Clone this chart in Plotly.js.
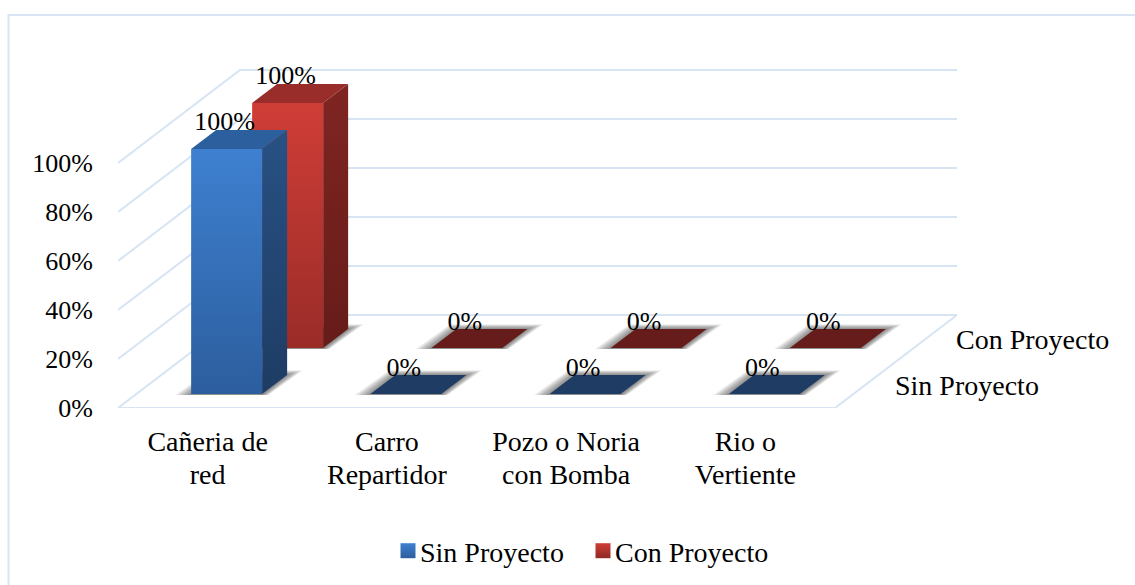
<!DOCTYPE html>
<html>
<head>
<meta charset="utf-8">
<script src="https://cdn.plot.ly/plotly-3.0.1.min.js"></script>
<style>html,body{margin:0;padding:0;background:#fff;overflow:hidden}</style>
</head>
<body>
<div id="chart" style="width:1135px;height:585px"></div>
<script>
const categories = ["Cañeria de<br>red", "Carro<br>Repartidor", "Pozo o Noria<br>con Bomba", "Rio o<br>Vertiente"];
const sinProyecto = [100, 0, 0, 0];
const conProyecto = [100, 0, 0, 0];
const seriesNames = ["Sin Proyecto", "Con Proyecto"];
const yTicks = [0, 20, 40, 60, 80, 100];
const yTickLabels = ["0%", "20%", "40%", "60%", "80%", "100%"];

// scale of the flat axes and the oblique projection, in screen pixels
const W = 1135, H = 585, L = 118, B = 408, T = 30, R = 1000;
const PX_CAT = 179.25, PX_PCT = 2.45;
const DEPTH_X = 122, DEPTH_Y = 93;
const BAR_HALF = 35.5, BAR_DX = 25, BAR_DY = 19;
const FONT = "Liberation Serif";
const GRID = "#D7E4F4";
const X = (c, px) => c + (px || 0) / PX_CAT;
const Y = (v, px) => v + (px || 0) / PX_PCT;
const xStart = -0.5, xEnd = xStart + (R - L) / PX_CAT;
const yEnd = (B - T) / PX_PCT;

const traces = [];
function poly(pts, o) {
  const t = {
    x: pts.map(p => p[0]), y: pts.map(p => p[1]),
    mode: "lines", line: { width: 0 }, fill: "toself",
    hoverinfo: "skip", showlegend: false, cliponaxis: false
  };
  if (Array.isArray(o)) {
    t.fillgradient = { type: "vertical", colorscale: [[0, o[1]], [1, o[0]]] };
  } else t.fillcolor = o;
  traces.push(t);
}
function line(pts) {
  traces.push({
    x: pts.map(p => p[0]), y: pts.map(p => p[1]),
    mode: "lines", line: { color: GRID, width: 2 },
    hoverinfo: "skip", showlegend: false, cliponaxis: false
  });
}

// side wall and back wall gridlines
yTicks.forEach(v => {
  line([[xStart, v], [X(xStart, DEPTH_X), Y(v, DEPTH_Y)], [xStart + (957 - L) / PX_CAT, Y(v, DEPTH_Y)]]);
});
// floor
const xFrontEnd = xStart + 4;
line([[xStart, 0], [xFrontEnd, 0], [X(xFrontEnd, DEPTH_X), Y(0, DEPTH_Y)]]);

function bar(c, v, dx, dy, cols) {
  const xl = X(c, dx - BAR_HALF), xr = X(c, dx + BAR_HALF);
  const xlb = X(c, dx - BAR_HALF + BAR_DX), xrb = X(c, dx + BAR_HALF + BAR_DX);
  const y0 = Y(0, dy), y1 = Y(v, dy), y0b = Y(0, dy + BAR_DY), y1b = Y(v, dy + BAR_DY);
  // soft floor shadow
  for (let k = 16; k >= 1; k--) {
    poly([
      [X(c, dx - BAR_HALF - k), Y(0, dy - 1)],
      [X(c, dx + BAR_HALF + k * 0.4), Y(0, dy - 1)],
      [X(c, dx + BAR_HALF + BAR_DX + k), Y(0, dy + BAR_DY + k * 0.3)],
      [X(c, dx - BAR_HALF + BAR_DX - k * 0.4), Y(0, dy + BAR_DY + k * 0.3)]
    ], "rgba(40,40,40,0.045)");
  }
  if (v > 0) {
    poly([[xr, y0], [xrb, y0b], [xrb, y1b], [xr, y1]], cols.side);
    poly([[xl, y0], [xr, y0], [xr, y1], [xl, y1]], cols.front);
    poly([[xl, y1], [xr, y1], [xrb, y1b], [xlb, y1b]], cols.top);
  } else {
    poly([[xl, y1], [xr, y1], [xrb, y1b], [xlb, y1b]], cols.flat);
  }
}
const conCols = { front: ["#D03D37", "#9A2C28"], side: ["#7F2522", "#661C19"], top: "#992D2A", flat: "#661C1A" };
const sinCols = { front: ["#3E80D0", "#2C5E9E"], side: ["#285184", "#1E3C64"], top: "#2C5F9E", flat: "#1E3C64" };
conProyecto.forEach((v, c) => bar(c, v, 80, 60, conCols));
sinProyecto.forEach((v, c) => bar(c, v, 19, 14, sinCols));

// data labels
function labels(vals, dx, dy) {
  traces.push({
    x: vals.map((v, c) => X(c, dx)), y: vals.map(v => Y(v, dy + (v > 0 ? 26 : 25))),
    mode: "text", text: vals.map(v => v + "%"), textposition: "middle center",
    textfont: { family: FONT, size: 26, color: "#000" },
    hoverinfo: "skip", showlegend: false, cliponaxis: false
  });
}
labels(conProyecto, 80 - 2, 60);
labels(sinProyecto, 19 - 2, 14);

// legend entries
traces.push({ x: [null], y: [null], mode: "markers", name: seriesNames[0],
  marker: { symbol: "square", size: 15, color: "#3E80D0", gradient: { type: "vertical", color: "#2C5E9E" } } });
traces.push({ x: [null], y: [null], mode: "markers", name: seriesNames[1],
  marker: { symbol: "square", size: 15, color: "#D03D37", gradient: { type: "vertical", color: "#8F2925" } } });

const layout = {
  width: W, height: H, paper_bgcolor: "#fff", plot_bgcolor: "rgba(0,0,0,0)",
  margin: { l: 0, r: 0, t: 0, b: 0, pad: 0 },
  font: { family: FONT, size: 28, color: "#000" },
  xaxis: { domain: [L / W, R / W], range: [xStart, xEnd], tickmode: "array", tickvals: categories.map((_, i) => i), ticktext: categories,
    showgrid: false, zeroline: false, showline: false, ticks: "outside", ticklen: 8, tickcolor: "rgba(0,0,0,0)",
    tickfont: { family: FONT, size: 28, color: "#000" }, tickangle: 0, fixedrange: true },
  yaxis: { domain: [(H - B) / H, (H - T) / H], range: [0, yEnd], tickmode: "array", tickvals: yTicks, ticktext: yTickLabels,
    showgrid: false, zeroline: false, showline: false, ticks: "outside", ticklen: 19, tickcolor: "rgba(0,0,0,0)",
    tickfont: { family: FONT, size: 26, color: "#000" }, fixedrange: true },
  showlegend: true,
  legend: { orientation: "h", x: 380 / W, xanchor: "left", y: (H - 551) / H, yanchor: "middle", entrywidth: 150, entrywidthmode: "pixels",
    font: { family: FONT, size: 28, color: "#000" }, bgcolor: "rgba(0,0,0,0)", itemclick: false, itemdoubleclick: false },
  annotations: [
    { x: xStart + (893 - L) / PX_CAT, y: Y(0, 408 - 385), xref: "x", yref: "y", text: seriesNames[0], showarrow: false,
      xanchor: "left", yanchor: "middle", font: { family: FONT, size: 28, color: "#000" } },
    { x: xStart + (954 - L) / PX_CAT, y: Y(0, 408 - 339), xref: "x", yref: "y", text: seriesNames[1], showarrow: false,
      xanchor: "left", yanchor: "middle", font: { family: FONT, size: 28, color: "#000" } }
  ],
  shapes: [{ type: "rect", xref: "paper", yref: "paper",
    x0: 8.5 / W, x1: (W + 20) / W, y0: -20 / H, y1: (H - 15) / H,
    line: { color: "#D9E5F4", width: 2 }, fillcolor: "rgba(0,0,0,0)", layer: "below" }]
};
Plotly.newPlot("chart", traces, layout, { displayModeBar: false, staticPlot: true }).then(gd => {
  gd.querySelectorAll(".legendsymbols").forEach(s => s.setAttribute("transform", "translate(8,0)"));
  gd.querySelectorAll(".xtick text tspan.line").forEach(t => {
    if (parseFloat(t.getAttribute("dy")) > 0) t.setAttribute("dy", "33px");
  });
});
</script>
</body>
</html>
